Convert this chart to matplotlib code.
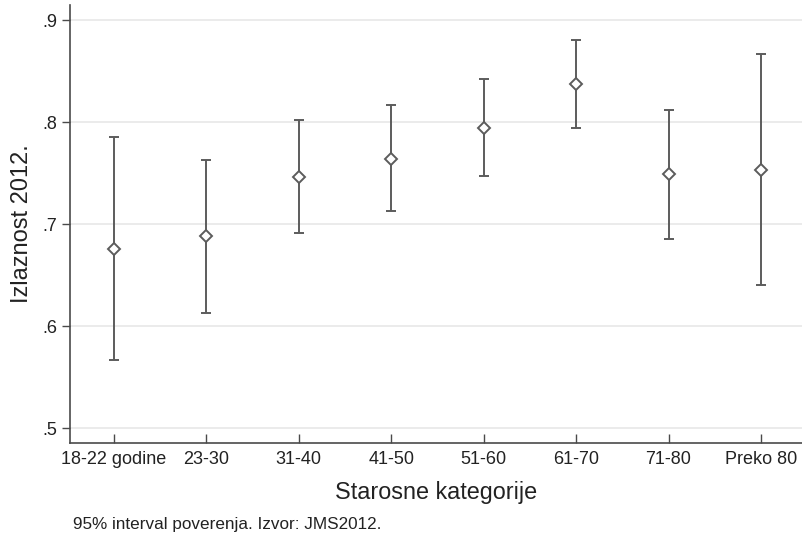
import numpy as np
import matplotlib.pyplot as plt

plt.rcParams["font.family"] = ["Liberation Sans", "DejaVu Sans"]

# age groups and turnout estimates with 95% CI
categories = ["18-22 godine", "23-30", "31-40", "41-50",
              "51-60", "61-70", "71-80", "Preko 80"]
means = [0.676, 0.688, 0.746, 0.764, 0.794, 0.837, 0.749, 0.753]
lower = [0.567, 0.613, 0.691, 0.713, 0.747, 0.794, 0.685, 0.640]
upper = [0.785, 0.763, 0.802, 0.817, 0.842, 0.880, 0.812, 0.867]
yticks = [0.5, 0.6, 0.7, 0.8, 0.9]
ytick_labels = [".5", ".6", ".7", ".8", ".9"]

col = "#5c5c5c"

fig = plt.figure(figsize=(8.02, 5.38), dpi=100)
ax = fig.add_axes([70 / 802, 1 - 442.7 / 538, 1 - 70 / 802, (442.7 - 5) / 538])

x = np.arange(1, len(categories) + 1)
m = np.array(means)
err = np.vstack([m - np.array(lower), np.array(upper) - m])

ax.errorbar(x, m, yerr=err, fmt="none", ecolor=col, elinewidth=1.4,
            capsize=3.8, capthick=1.4, zorder=2)
ax.plot(x, m, linestyle="none", marker="D", markersize=6.5,
        markerfacecolor="white", markeredgecolor=col, markeredgewidth=1.4,
        zorder=3)

ax.set_xlim(0.524, 8.444)
ax.set_ylim(0.4859, 0.9147)

ax.set_yticks(yticks)
ax.set_yticklabels(ytick_labels)
ax.set_xticks(x)
ax.set_xticklabels(categories)

ax.grid(True, axis="y", color="#e8e8e8", linewidth=1.2, zorder=0)
ax.set_axisbelow(True)

for s in ["top", "right"]:
    ax.spines[s].set_visible(False)
for s in ["left", "bottom"]:
    ax.spines[s].set_color("#4a4a4a")
    ax.spines[s].set_linewidth(1.2)

ax.tick_params(axis="y", direction="out", length=6, width=1, color="#4a4a4a",
               labelsize=13, labelcolor="#222222", pad=3)
ax.tick_params(axis="x", direction="in", length=6.5, width=1, color="#4a4a4a",
               labelsize=13, labelcolor="#222222", pad=6)

ax.set_ylabel("Izlaznost 2012.", fontsize=17, color="#222222", labelpad=7)
ax.set_xlabel("Starosne kategorije", fontsize=16.8, color="#222222", labelpad=9)

fig.text(73 / 802, 1 - 525 / 538, "95% interval poverenja. Izvor: JMS2012.",
         fontsize=12.3, color="#222222", va="center", ha="left")

fig.savefig("out.png", dpi=100)
